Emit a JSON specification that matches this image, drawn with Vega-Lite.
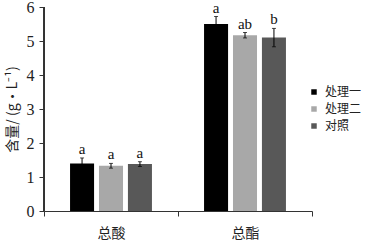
{
  "$schema": "https://vega.github.io/schema/vega-lite/v6.json",
  "autosize": "none",
  "padding": {"left": 44, "top": 7, "right": 61, "bottom": 31},
  "width": 268,
  "height": 204,
  "background": "white",
  "config": {
    "view": {"stroke": null},
    "axisY": {"domain": true, "domainColor": "#333", "domainWidth": 1, "ticks": true, "tickColor": "#333", "tickSize": 5,
      "grid": false, "labelFont": "Liberation Serif", "labelFontSize": 16, "labelColor": "#222", "labelPadding": 5,
      "titleFont": "Noto Sans CJK SC", "titleFontSize": 14, "titleFontWeight": "normal", "titleColor": "#222", "titlePadding": 7}
  },
  "data": {"values": [
    {"cat": "总酸", "group": "处理一", "mean": 1.40, "lo": 1.26, "hi": 1.56, "sig": "a"},
    {"cat": "总酸", "group": "处理二", "mean": 1.33, "lo": 1.26, "hi": 1.40, "sig": "a"},
    {"cat": "总酸", "group": "对照", "mean": 1.38, "lo": 1.31, "hi": 1.45, "sig": "a"},
    {"cat": "总酯", "group": "处理一", "mean": 5.50, "lo": 5.28, "hi": 5.72, "sig": "a"},
    {"cat": "总酯", "group": "处理二", "mean": 5.17, "lo": 5.09, "hi": 5.25, "sig": "ab"},
    {"cat": "总酯", "group": "对照", "mean": 5.10, "lo": 4.83, "hi": 5.37, "sig": "b"}
  ]},
  "encoding": {
    "x": {"field": "cat", "type": "nominal", "sort": ["总酸", "总酯"],
      "scale": {"paddingInner": 0, "paddingOuter": 0},
      "axis": {"title": null, "labelAngle": 0, "labelFont": "Noto Sans CJK SC", "labelFontSize": 14,
        "labelColor": "#222", "labelPadding": 10, "tickBand": "extent", "tickSize": 5,
        "tickColor": "#333", "domainColor": "#333", "labelBaseline": "top"}},
    "y": {"field": "mean", "type": "quantitative", "scale": {"domain": [0, 6]},
      "axis": {"title": "含量/ (g•L⁻¹)", "tickCount": 6}}
  },
  "layer": [
    {
      "mark": {"type": "bar"},
      "encoding": {
        "xOffset": {"field": "group", "type": "nominal", "sort": ["处理一", "处理二", "对照"],
          "scale": {"paddingInner": 0.17, "paddingOuter": 0.9}},
        "color": {"field": "group", "type": "nominal", "sort": ["处理一", "处理二", "对照"],
          "scale": {"range": ["#000000", "#a8a8a8", "#585858"]},
          "legend": {"title": null, "orient": "none", "legendX": 264, "legendY": 79,
            "symbolType": "square", "symbolSize": 30, "symbolStrokeWidth": 0,
            "labelFont": "Noto Sans CJK SC", "labelFontSize": 12, "labelColor": "#222",
            "rowPadding": 5, "labelOffset": 5}}
      }
    },
    {
      "mark": {"type": "rule", "color": "#000", "strokeWidth": 1},
      "encoding": {
        "xOffset": {"field": "group", "type": "nominal", "sort": ["处理一", "处理二", "对照"]},
        "y": {"field": "lo", "type": "quantitative", "axis": {"title": "含量/ (g•L⁻¹)", "tickCount": 6}},
        "y2": {"field": "hi"}
      }
    },
    {
      "mark": {"type": "tick", "color": "#000", "size": 4, "thickness": 1},
      "encoding": {
        "xOffset": {"field": "group", "type": "nominal", "sort": ["处理一", "处理二", "对照"]},
        "y": {"field": "hi", "type": "quantitative", "axis": {"title": "含量/ (g•L⁻¹)", "tickCount": 6}}
      }
    },
    {
      "mark": {"type": "tick", "color": "#000", "size": 4, "thickness": 1},
      "encoding": {
        "xOffset": {"field": "group", "type": "nominal", "sort": ["处理一", "处理二", "对照"]},
        "y": {"field": "lo", "type": "quantitative", "axis": {"title": "含量/ (g•L⁻¹)", "tickCount": 6}}
      }
    },
    {
      "mark": {"type": "text", "font": "Liberation Serif", "fontSize": 15, "baseline": "bottom", "dy": -1, "color": "#111"},
      "encoding": {
        "xOffset": {"field": "group", "type": "nominal", "sort": ["处理一", "处理二", "对照"]},
        "y": {"field": "hi", "type": "quantitative", "axis": {"title": "含量/ (g•L⁻¹)", "tickCount": 6}},
        "text": {"field": "sig"}
      }
    },
    {
      "mark": {"type": "rule", "color": "#333", "strokeWidth": 1},
      "encoding": {
        "x": {"datum": "总酸", "bandPosition": 0},
        "y": {"datum": 0, "type": "quantitative", "axis": {"title": "含量/ (g•L⁻¹)", "tickCount": 6}},
        "y2": {"datum": 6}
      }
    }
  ]
}
